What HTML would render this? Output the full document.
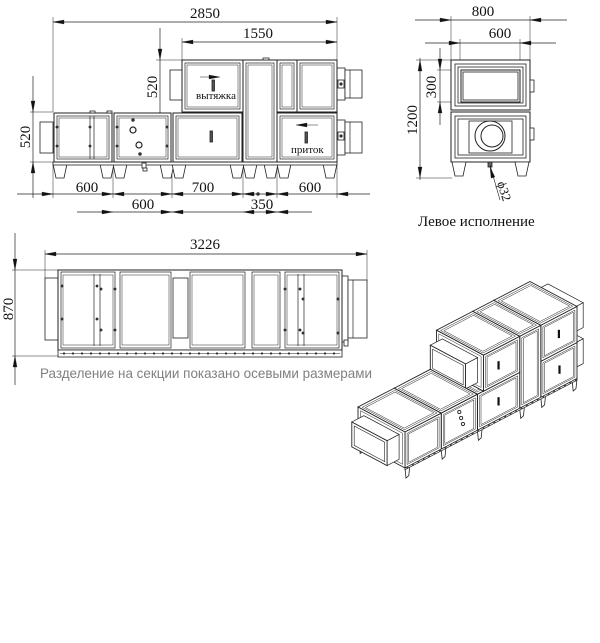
<!DOCTYPE html>
<html><head><meta charset="utf-8"><style>
html,body{margin:0;padding:0;background:#fff;}
svg{display:block;}
.d{font-family:"Liberation Serif","DejaVu Serif",serif;font-size:15px;fill:#111;}
.s{font-family:"Liberation Sans",sans-serif;}
</style></head><body>
<svg id="sv" width="600" height="643" viewBox="0 0 600 643" xmlns="http://www.w3.org/2000/svg">
<g id="g" fill="none" stroke="#222" stroke-width="0.8"></g>
<!-- texts top-left -->
<text class="d" x="205" y="18" text-anchor="middle">2850</text>
<text class="d" x="258" y="38" text-anchor="middle">1550</text>
<text class="d" x="157" y="87" text-anchor="middle" transform="rotate(-90 157 87)">520</text>
<text class="d" x="30" y="137" text-anchor="middle" transform="rotate(-90 30 137)">520</text>
<text class="d" x="87" y="192" text-anchor="middle">600</text>
<text class="d" x="203" y="192" text-anchor="middle">700</text>
<text class="d" x="310" y="192" text-anchor="middle">600</text>
<text class="d" x="143" y="209" text-anchor="middle">600</text>
<text class="d" x="262" y="209" text-anchor="middle">350</text>
<text class="d" x="196" y="99" font-size="11" style="font-size:11px">вытяжка</text>
<text class="d" x="291" y="153" style="font-size:11px">приток</text>
<!-- right view -->
<text class="d" x="483" y="16" text-anchor="middle">800</text>
<text class="d" x="500" y="38" text-anchor="middle">600</text>
<text class="d" x="417" y="120" text-anchor="middle" transform="rotate(-90 417 120)">1200</text>
<text class="d" x="436" y="87" text-anchor="middle" transform="rotate(-90 436 87)">300</text>
<text class="d" x="497" y="183" style="font-size:13px" transform="rotate(72 497 183)">ϕ32</text>
<text class="d" x="418" y="226">Левое исполнение</text>
<!-- plan -->
<text class="d" x="205" y="249" text-anchor="middle">3226</text>
<text class="d" x="13" y="309" text-anchor="middle" transform="rotate(-90 13 309)">870</text>
<text class="s" x="40" y="378" font-size="14" fill="#808080" textLength="332" lengthAdjust="spacingAndGlyphs">Разделение на секции показано осевыми размерами</text>
</svg>
<script>
var g=document.getElementById('g'),NS="http://www.w3.org/2000/svg";
function el(t,a){var e=document.createElementNS(NS,t);for(var k in a)e.setAttribute(k,a[k]);g.appendChild(e);return e;}
function L(x1,y1,x2,y2,w){el('line',{x1:x1,y1:y1,x2:x2,y2:y2,'stroke-width':w||0.7});}
function R(x,y,w,h,f,sw){el('rect',{x:x,y:y,width:w,height:h,fill:f||'none','stroke-width':sw||0.8});}
function pg(p,f,sw){el('polygon',{points:p.map(function(q){return q[0].toFixed(1)+','+q[1].toFixed(1)}).join(' '),fill:f||'#fff','stroke-width':sw||0.7});}
function A(x,y,dx,dy){var l=11,h=2;var px=-dy,py=dx;pg([[x,y],[x-dx*l+px*h,y-dy*l+py*h],[x-dx*l-px*h,y-dy*l-py*h]],'#111',0.3);}
function panel(x,y,w,h){R(x,y,w,h,'#fff',1);R(x+3,y+3,w-6,h-6,'none',0.7);R(x+5,y+5,w-10,h-10,'none',0.5);}
function leg(x,y){pg([[x,y],[x+14,y],[x+11,y+14],[x+3,y+14]],'#fff',0.8);}
function dot(x,y,r){el('circle',{cx:x,cy:y,r:r||1.3,fill:'#333','stroke-width':0.3});}
/* ===== top-left front view ===== */
// dims
L(53,22,337,22);A(53,22,-1,0);A(337,22,1,0);
L(53,17,53,112,0.5);L(337,17,337,68,0.5);
L(182,42,337,42);A(182,42,-1,0);A(337,42,1,0);L(182,38,182,60,0.5);
L(160,28,160,148);A(160,60,0,1);A(160,112,0,-1);L(156,60,182,60,0.5);
L(33,76,33,198);A(33,112,0,1);A(33,162,0,-1);L(30,112,53,112,0.5);L(30,162,53,162,0.5);
L(17,194,370,194);[53,113,172,243,277,337].forEach(function(x){L(x,165,x,198,0.5);});
A(53,194,1,0);A(113,194,-1,0);A(113,194,1,0);A(172,194,-1,0);A(172,194,1,0);A(243,194,-1,0);A(243,194,1,0);A(277,194,-1,0);A(277,194,1,0);A(337,194,-1,0);
L(77,212,312,212);A(113,212,1,0);A(172,212,-1,0);A(172,212,1,0);A(243,212,-1,0);A(277,212,-1,0);A(277,212,1,0);dot(258,194,1.6);
// ducts
R(40,122,13,31,'#fff');R(170,70,12,30,'#fff');
R(337,68,8,32,'#fff');R(345,70,17,28,'#fff');L(350,70,350,98);R(338,80,6,8,'#fff');dot(341,84,1.5);
R(337,120,8,35,'#fff');R(345,122,17,31,'#fff');L(350,122,350,153);R(338,132,6,8,'#fff');dot(341,136,1.5);
// legs
[53,100,113,160,172,230,243,264,277,323].forEach(function(x){leg(x,164);});
// body
R(53,162,284,3,'#fff');
panel(54,113,58,49);panel(114,113,57,49);L(90,116,90,159);L(94,116,94,159);
panel(173,113,69,49);panel(182,60,61,52);panel(243,60,34,102);panel(277,60,20,52);panel(297,60,40,52);panel(277,113,60,49);
L(243,112,243,162,1);
[[57,127],[57,146],[90,127],[90,146],[117,127],[117,146],[167,127],[167,146]].forEach(function(p){dot(p[0],p[1]);});
dot(133,120,1.6);el('circle',{cx:133,cy:130,r:3,'stroke-width':1.2});el('circle',{cx:139,cy:145,r:3,'stroke-width':1.2});dot(140,154,1.6);
R(142,163,4,5,'#fff');R(143,168,4,3,'#fff');
R(210,131,2.5,11,'#555');R(212,80,2.5,11,'#555');R(305,132,2.5,11,'#555');
L(200,77,218,77,0.6);A(220,77,1,0);L(298,125,318,125,0.6);A(296,125,-1,0);
R(263,58,6,2,'#fff');R(90,111,5,2,'#fff');R(107,111,5,2,'#fff');
/* ===== right view ===== */
L(415,20,567,20);A(451,20,1,0);A(530,20,-1,0);L(451,16,451,60,0.5);L(530,16,530,60,0.5);
L(425,43,556,43);A(460,43,1,0);A(520,43,-1,0);L(460,39,460,70,0.5);L(520,39,520,70,0.5);
L(420,58,420,180);A(420,60,0,-1);A(420,178,0,1);L(416,60,451,60,0.5);L(416,178,452,178,0.5);
L(440,48,440,125);A(440,70,0,1);A(440,102,0,-1);L(437,70,461,70,0.5);L(437,102,461,102,0.5);
R(451,60,79,50,'#fff',1);R(455,64,71,42);R(458,67,65,36);R(461,70,59,32,'none',1);R(463,72,55,28);
R(451,112,79,50,'#fff',1);R(455,116,71,42);R(458,119,65,36);R(469,121,43,32);
el('circle',{cx:490,cy:136,r:15,fill:'#fff','stroke-width':1});el('circle',{cx:492,cy:136,r:11,fill:'#fff','stroke-width':1});
R(530,80,4,12,'#fff');R(530,128,4,12,'#fff');
leg(452,162);leg(515,162);R(488,162,4,5,'#666');L(490,165,500,200,0.6);A(490,167,-0.27,-0.96);
/* ===== plan view ===== */
L(45,254,367,254);A(45,254,-1,0);A(367,254,1,0);L(45,250,45,280,0.5);L(367,250,367,282,0.5);
L(15,233,15,385);A(15,270,0,1);A(15,356,0,-1);L(12,270,60,270,0.5);L(12,356,58,356,0.5);
R(45,278,13,62,'#fff');R(342,276,6,66,'#fff');R(348,280,19,58,'#fff');L(353,280,353,338);
R(58,270,284,80,'#fff',1);
[[59,117],[118,173],[188,247],[250,282],[283,341]].forEach(function(s){R(s[0]+2,272,s[1]-s[0]-4,76,'none',0.7);R(s[0]+4,275,s[1]-s[0]-8,70,'none',0.5);});
R(173,278,15,60,'#fff');L(94,274,94,346);L(100,274,100,346);L(298,274,298,346);L(304,274,304,346);
[[62,286],[62,319],[97,286],[97,319],[101,289],[101,330],[115,289],[115,330],[285,289],[285,330],[300,289],[300,330],[303,299],[303,333],[338,299],[338,333]].forEach(function(p){dot(p[0],p[1]);});
R(58,350,284,7,'#fff');L(60,353.5,340,353.5,0.5);
for(var x=64;x<340;x+=9){dot(x,353.5,1);}
R(344,340,4,6,'#fff');
/* ===== isometric ===== */
function P(l,w,h){return [405+l*0.06035-w*0.05875,468-l*0.0314-w*0.03125-h*0.0692];}
function face(a,b,c,d,inset){pg([a,b,c,d]);}
function quad(f,u0,u1,v0,v1){return [f(u0,v0),f(u1,v0),f(u1,v1),f(u0,v1)];}
function box(l0,l1,w0,w1,h0,h1,noend){
 var t=function(u,v){return P(u,v,h1)},n=function(u,v){return P(u,w0,v)},e=function(u,v){return P(l0,u,v)};
 pg(quad(t,l0,l1,w0,w1),'#fff',0.9);pg(quad(t,l0+30,l1-30,w0+40,w1-40),'#fff',0.5);pg(quad(t,l0+55,l1-55,w0+70,w1-70),'#fff',0.5);
 pg(quad(n,l0,l1,h0,h1),'#fff',0.9);pg(quad(n,l0+35,l1-35,h0+35,h1-35),'#fff',0.5);pg(quad(n,l0+60,l1-60,h0+55,h1-55),'#fff',0.5);
 if(!noend){pg(quad(e,w0,w1,h0,h1),'#fff',0.9);pg(quad(e,w0+40,w1-40,h0+35,h1-35),'#fff',0.5);}
}
function duct(l0,l1,w0,w1,h0,h1){
 pg(quad(function(u,v){return P(u,w0,v)},l0,l1,h0,h1),'#fff',0.7);
 pg(quad(function(u,v){return P(u,v,h1)},l0,l1,w0,w1),'#fff',0.7);
 pg(quad(function(u,v){return P(l0,u,v)},w0,w1,h0,h1),'#fff',0.9);
 pg(quad(function(u,v){return P(l0,u,v)},w0+40,w1-40,h0+40,h1-40),'#fff',0.6);
}
function isoLeg(l,w){var a=P(l,w,0),b=P(l+80,w,0);pg([[a[0],a[1]],[b[0],b[1]],[b[0]-1,b[1]+10],[a[0]+1,a[1]+10]],'#fff',0.8);}
// far ducts at right end
duct(2850,3050,100,700,600,960);duct(2850,3050,100,700,80,440);
[2770,2250,1900,1200,600,0].forEach(function(l){isoLeg(l,780);});
[2770,2250,1900,1200,600,0].forEach(function(l){isoLeg(l,0);});
var secs=[[2250,2850],[1900,2250],[1300,1900]];
box(2250,2850,0,800,0,520);box(2250,2850,0,800,520,1040);
box(1900,2250,0,800,0,1040);
box(1200,1900,0,800,0,520);box(1300,1900,0,800,520,1040);
duct(1100,1300,100,700,600,960);
box(600,1200,0,800,0,520);box(0,600,0,800,0,520);
duct(-200,0,100,700,80,440);
// base rail
pg([P(0,0,0),P(2850,0,0),P(2850,0,-25),P(0,0,-25)],'#fff',0.7);
for(var l=40;l<2850;l+=90){var q=P(l,0,-12);el('circle',{cx:q[0],cy:q[1],r:0.9,fill:'#444','stroke-width':0.2});}
// handles
[[1550,260],[1550,780],[2550,780],[2560,260]].forEach(function(h){var a=P(h[0],0,h[1]+60),b=P(h[0],0,h[1]-60);el('line',{x1:a[0],y1:a[1],x2:b[0],y2:b[1],'stroke-width':2.2,stroke:'#111'});});
[[900,400],[930,300],[960,200]].forEach(function(h){var a=P(h[0],0,h[1]);el('circle',{cx:a[0],cy:a[1],r:1.6,'stroke-width':0.9});});
</script>
</body></html>
